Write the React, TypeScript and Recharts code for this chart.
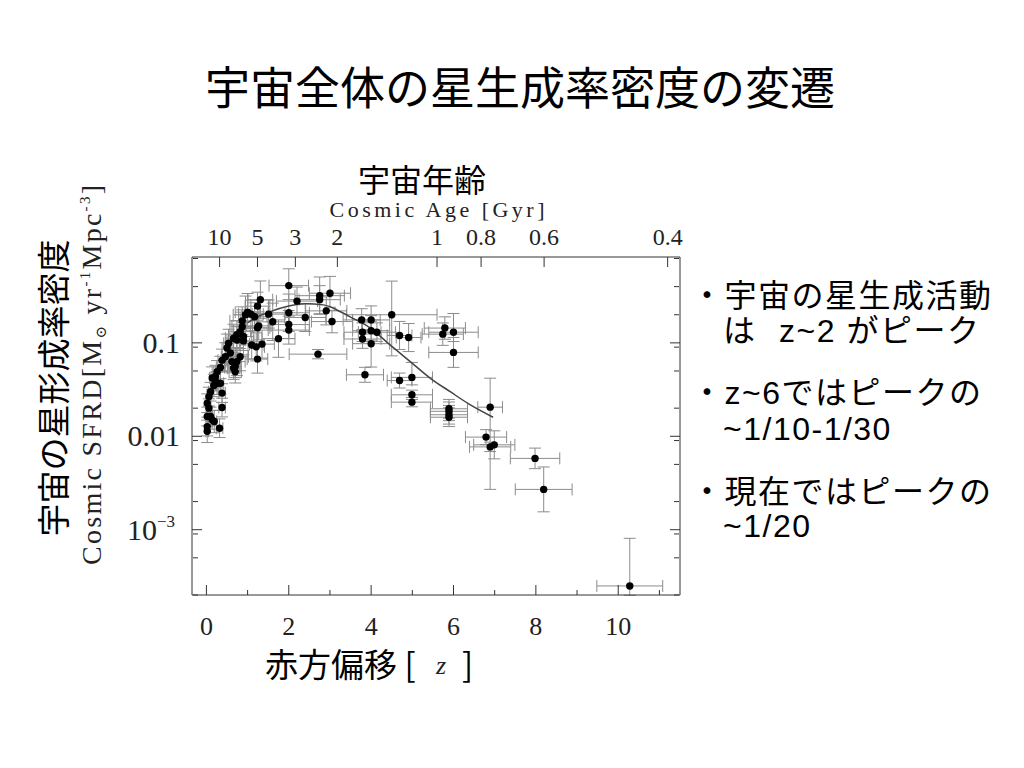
// Cosmic star formation rate density vs redshift (slide recreation)
import React from 'react'
import { ComposedChart, Scatter, Line, XAxis, YAxis, ErrorBar } from 'recharts'

const redshift = [
    0.02, 0.02, 0.02, 0.02, 0.06, 0.06, 0.1, 0.1, 0.14, 0.19,
    0.32, 0.38, 0.38, 0.34, 0.26, 0.18, 0.14, 0.22, 0.22, 0.26,
    0.34, 0.38, 0.46, 0.5, 0.54, 0.58, 0.62, 0.66, 0.7, 0.7,
    0.74, 0.82, 0.66, 0.74, 0.74, 0.82, 0.9, 0.9, 0.87, 0.87,
    0.95, 1.0, 1.08, 1.17, 1.1, 1.21, 1.24, 1.27, 1.24, 1.24,
    1.31, 1.35, 1.51, 1.61, 1.75, 2.0, 2.0, 2.0, 2.0, 2.2,
    2.4, 2.71, 2.75, 2.75, 2.91, 3.0, 3.05, 3.77, 4.0, 3.79,
    4.0, 4.14, 3.79, 4.0, 4.5, 4.69, 4.91, 5.79, 5.74, 6.0,
    6.0, 3.85, 4.69, 4.99, 4.99, 4.99, 5.89, 5.89, 5.89, 5.89,
    6.89, 6.79, 6.89, 6.99, 7.98, 8.19, 10.28,
]
const sfrd = [
    0.0113, 0.0127, 0.0163, 0.0226, 0.02, 0.0266, 0.03, 0.0163, 0.015, 0.0144,
    0.0122, 0.0203, 0.029, 0.037, 0.037, 0.035, 0.042, 0.0436, 0.0386, 0.049,
    0.0545, 0.065, 0.071, 0.088, 0.099, 0.078, 0.063, 0.0536, 0.049, 0.056,
    0.063, 0.071, 0.112, 0.107, 0.122, 0.132, 0.117, 0.105, 0.149, 0.172,
    0.2, 0.213, 0.203, 0.19, 0.095, 0.0906, 0.067, 0.152, 0.145, 0.247,
    0.29, 0.097, 0.203, 0.168, 0.111, 0.41, 0.21, 0.157, 0.137, 0.28,
    0.187, 0.0757, 0.32, 0.29, 0.22, 0.34, 0.169, 0.176, 0.176, 0.13,
    0.135, 0.13, 0.11, 0.098, 0.2, 0.12, 0.114, 0.144, 0.124, 0.13,
    0.079, 0.0455, 0.0395, 0.0427, 0.0278, 0.0232, 0.0197, 0.0185, 0.017, 0.016,
    0.0205, 0.0098, 0.0077, 0.0081, 0.0058, 0.0027, 0.00025,
]
const redshiftErr = [
    0.03, 0.03, 0.03, 0.03, 0.05, 0.05, 0.05, 0.05, 0.05, 0.06,
    0.08, 0.08, 0.08, 0.08, 0.08, 0.06, 0.06, 0.06, 0.06, 0.08,
    0.1, 0.1, 0.1, 0.12, 0.12, 0.12, 0.15, 0.15, 0.15, 0.15,
    0.2, 0.2, 0.2, 0.2, 0.2, 0.25, 0.25, 0.25, 0.25, 0.3,
    0.3, 0.3, 0.3, 0.3, 0.3, 0.2, 0.25, 0.3, 0.3, 0.3,
    0.3, 0.3, 0.4, 0.4, 0.4, 0.48, 0.5, 0.5, 0.5, 0.5,
    0.5, 0.7, 0.6, 0.5, 0.5, 0.5, 0.5, 0.45, 0.45, 0.45,
    0.45, 0.45, 0.45, 0.45, 1.1, 0.3, 0.3, 0.5, 0.5, 0.6,
    0.6, 0.45, 0.3, 0.5, 0.5, 0.5, 0.45, 0.45, 0.45, 0.45,
    0.3, 0.5, 0.5, 0.5, 0.6, 0.69, 0.8,
]
// lower / upper error in dex
const dexLow = [
    0.12, 0.1, 0.1, 0.1, 0.1, 0.1, 0.1, 0.1, 0.1, 0.12,
    0.1, 0.1, 0.1, 0.12, 0.12, 0.12, 0.12, 0.12, 0.1, 0.12,
    0.12, 0.12, 0.15, 0.15, 0.15, 0.12, 0.12, 0.12, 0.12, 0.12,
    0.15, 0.15, 0.15, 0.15, 0.15, 0.18, 0.15, 0.15, 0.18, 0.15,
    0.15, 0.15, 0.15, 0.15, 0.15, 0.15, 0.15, 0.15, 0.15, 0.15,
    0.2, 0.15, 0.15, 0.2, 0.2, 0.15, 0.2, 0.15, 0.15, 0.15,
    0.15, 0.05, 0.2, 0.15, 0.15, 0.15, 0.12, 0.12, 0.15, 0.1,
    0.1, 0.1, 0.1, 0.25, 0.44, 0.15, 0.15, 0.12, 0.12, 0.1,
    0.16, 0.08, 0.08, 0.08, 0.05, 0.05, 0.1, 0.1, 0.1, 0.1,
    0.88, 0.08, 0.05, 0.15, 0.11, 0.24, 0.1,
]
const dexHigh = [
    0.12, 0.1, 0.1, 0.1, 0.1, 0.1, 0.1, 0.1, 0.1, 0.12,
    0.1, 0.1, 0.1, 0.12, 0.12, 0.12, 0.12, 0.12, 0.1, 0.12,
    0.12, 0.12, 0.15, 0.15, 0.15, 0.12, 0.12, 0.12, 0.12, 0.12,
    0.15, 0.15, 0.15, 0.15, 0.15, 0.18, 0.15, 0.15, 0.18, 0.15,
    0.2, 0.2, 0.15, 0.15, 0.15, 0.15, 0.15, 0.15, 0.15, 0.15,
    0.2, 0.15, 0.15, 0.2, 0.2, 0.18, 0.2, 0.15, 0.15, 0.15,
    0.15, 0.05, 0.2, 0.15, 0.15, 0.18, 0.12, 0.12, 0.15, 0.1,
    0.1, 0.1, 0.1, 0.3, 0.36, 0.15, 0.15, 0.12, 0.12, 0.2,
    0.16, 0.08, 0.08, 0.16, 0.05, 0.05, 0.1, 0.1, 0.1, 0.1,
    0.31, 0.08, 0.05, 0.15, 0.11, 0.24, 0.51,
]

// fit curve
const curveZ = [1.0, 1.3, 1.55, 2.0, 2.4, 2.84, 3.0, 3.17, 3.49, 3.98, 4.46, 4.95, 5.43, 5.92, 6.4, 6.96]
const curveSfrd = [0.165, 0.195, 0.216, 0.248, 0.263, 0.255, 0.244, 0.225, 0.19, 0.144, 0.095, 0.063, 0.042, 0.03, 0.0218, 0.016]

// axes
const zTicks = [0, 1, 2, 3, 4, 5, 6, 7, 8, 9, 10, 11]
const zLabelled = [0, 2, 4, 6, 8, 10]
const ageTickZ = [0.32, 1.24, 2.16, 3.18, 5.6, 6.67, 8.2, 11.2]
const ageLabels = ['10', '5', '3', '2', '1', '0.8', '0.6', '0.4']
const sfrdTicks = [0.001, 0.01, 0.1]
const sfrdMinorTicks = [
    0.0002, 0.0003, 0.0004, 0.0005, 0.0006, 0.0007, 0.0008, 0.0009,
    0.002, 0.003, 0.004, 0.005, 0.006, 0.007, 0.008, 0.009,
    0.02, 0.03, 0.04, 0.05, 0.06, 0.07, 0.08, 0.09,
    0.2, 0.3, 0.4, 0.5, 0.6, 0.7, 0.8,
]

const points = redshift.map((z, i) => {
    const v = sfrd[i]
    return {
        z,
        sfrd: v,
        zErr: redshiftErr[i],
        sfrdErr: [v - v * Math.pow(10, -dexLow[i]), v * Math.pow(10, dexHigh[i]) - v],
    }
})
const curve = curveZ.map((z, i) => ({ z, sfrd: curveSfrd[i] }))

const zDomain = [-0.35, 11.5]
const sfrdDomain = [0.0002, 0.83]
const serif = '"Liberation Serif", "DejaVu Serif", serif'
const gothic = '"Noto Sans CJK JP", sans-serif'
const bullets = '"Liberation Sans", "Noto Sans CJK JP", sans-serif'
const axisColor = '#333'

function SfrdTick(props: any) {
    const { x, y, payload } = props
    const v = payload.value
    if (v === 0.001) {
        return (
            <text x={x - 5} y={y + 10} textAnchor="end" fontSize={30} fill="#222" fontFamily={serif}>
                10<tspan dy={-13} fontSize={17}>−3</tspan>
            </text>
        )
    }
    return (
        <text x={x} y={y + 10} textAnchor="end" fontSize={30} fill="#222" fontFamily={serif}>
            {v === 0.1 ? '0.1' : '0.01'}
        </text>
    )
}

// bottom axis: inward tick line, label on even values
function RedshiftTick(props: any) {
    const { x, y, payload } = props
    const major = zLabelled.includes(payload.value)
    return (
        <g>
            <line x1={x} x2={x} y1={y} y2={y - (major ? 10 : 5)} stroke={axisColor} strokeWidth={1} />
            {major && (
                <text x={x} y={y + 40} textAnchor="middle" fontSize={26} fill="#222" fontFamily={serif}>
                    {payload.value}
                </text>
            )}
        </g>
    )
}

// top axis: inward tick line and age label
function AgeTick(props: any) {
    const { x, y, payload } = props
    let idx = 0
    ageTickZ.forEach((t, i) => {
        if (Math.abs(t - payload.value) < Math.abs(ageTickZ[idx] - payload.value)) idx = i
    })
    return (
        <g>
            <line x1={x} x2={x} y1={y} y2={y + 10} stroke={axisColor} strokeWidth={1} />
            <text x={x} y={y - 12} textAnchor="middle" fontSize={24} fill="#222" fontFamily={serif}>
                {ageLabels[idx]}
            </text>
        </g>
    )
}

// tick lines only, no label
function NoLabel() {
    return <g />
}

function DataDot(props: any) {
    return <circle cx={props.cx} cy={props.cy} r={3.7} fill="#000" />
}

export default function App() {
    return (
        <div style={{ position: 'absolute', left: 0, top: 0, width: 1024, height: 768, background: '#fff' }}>
            <ComposedChart
                width={1024}
                height={768}
                margin={{ top: 227, right: 344, bottom: 143, left: 132 }}
            >
                <XAxis xAxisId="z" dataKey="z" type="number" orientation="bottom" domain={zDomain}
                    allowDataOverflow ticks={zTicks} interval={0} height={30} tickLine={false} tickSize={0}
                    tickMargin={0} stroke={axisColor} tick={RedshiftTick} />
                <XAxis xAxisId="age" dataKey="z" type="number" orientation="top" domain={zDomain}
                    allowDataOverflow ticks={ageTickZ} interval={0} height={30} tickLine={false} tickSize={0}
                    tickMargin={0} stroke={axisColor} tick={AgeTick} />

                <YAxis yAxisId="sfr" type="number" scale="log" orientation="left" domain={sfrdDomain}
                    allowDataOverflow ticks={sfrdTicks} width={60} tickLine={false} tickSize={10} tickMargin={2}
                    stroke={axisColor} tick={SfrdTick} />
                <YAxis yAxisId="sfrMajor" type="number" scale="log" orientation="left" mirror width={1} domain={sfrdDomain}
                    allowDataOverflow ticks={sfrdTicks} tickSize={10} tick={NoLabel} axisLine={false} stroke={axisColor} />
                <YAxis yAxisId="sfrMinor" type="number" scale="log" orientation="left" mirror width={1} domain={sfrdDomain}
                    allowDataOverflow ticks={sfrdMinorTicks} tickSize={5} tick={NoLabel} axisLine={false} stroke={axisColor} />
                <YAxis yAxisId="sfrRight" type="number" scale="log" orientation="right" mirror width={1} domain={sfrdDomain}
                    allowDataOverflow ticks={sfrdTicks} tickSize={10} tick={NoLabel} stroke={axisColor} />
                <YAxis yAxisId="sfrRightMinor" type="number" scale="log" orientation="right" mirror width={1} domain={sfrdDomain}
                    allowDataOverflow ticks={sfrdMinorTicks} tickSize={5} tick={NoLabel} axisLine={false} stroke={axisColor} />

                <Scatter data={points} dataKey="sfrd" xAxisId="z" yAxisId="sfr" shape={DataDot} isAnimationActive={false}>
                    <ErrorBar dataKey="zErr" direction="x" width={6} stroke="#8c8c8c" strokeWidth={1} isAnimationActive={false} />
                    <ErrorBar dataKey="sfrdErr" direction="y" width={6} stroke="#8c8c8c" strokeWidth={1} isAnimationActive={false} />
                </Scatter>
                <Line data={curve} dataKey="sfrd" xAxisId="age" yAxisId="sfr" type="monotone" stroke="#444"
                    strokeWidth={1.5} dot={false} activeDot={false} isAnimationActive={false} />
            </ComposedChart>

            <svg width={1024} height={768} style={{ position: 'absolute', left: 0, top: 0, pointerEvents: 'none' }}>
                <text x={520} y={105} textAnchor="middle" fontSize={45} fontFamily={gothic} fill="#000">
                    宇宙全体の星生成率密度の変遷
                </text>
                <text x={422} y={192} textAnchor="middle" fontSize={32} fontFamily={gothic} fill="#000">
                    宇宙年齢
                </text>
                <text x={437} y={217} textAnchor="middle" fontSize={22} fontFamily={serif} fill="#222"
                    textLength={215} lengthAdjust="spacing">
                    Cosmic Age [Gyr]
                </text>
                <text transform="translate(101,375) rotate(-90)" textAnchor="middle" fontSize={28}
                    fontFamily={serif} fill="#222" textLength={380} lengthAdjust="spacing">
                    Cosmic SFRD[M<tspan dy={5} fontSize={15}>⊙</tspan><tspan dy={-5}> yr</tspan>
                    <tspan dy={-11} fontSize={15}>-1</tspan><tspan dy={11}>Mpc</tspan>
                    <tspan dy={-11} fontSize={15}>-3</tspan><tspan dy={11}>]</tspan>
                </text>
                <text transform="translate(66,388) rotate(-90)" textAnchor="middle" fontSize={33}
                    fontFamily={gothic} fill="#000">
                    宇宙の星形成率密度
                </text>
                <text x={265} y={677} fontSize={33} fontFamily={gothic} fill="#000">赤方偏移 [</text>
                <text x={436} y={674} fontSize={26} fontFamily={serif} fontStyle="italic" fill="#222">z</text>
                <text x={462} y={677} fontSize={33} fontFamily={gothic} fill="#000">]</text>

                <g fontSize={32} fontFamily={bullets} fill="#000" letterSpacing={1.5}>
                    <text x={691} y={307}>・宇宙の星生成活動</text>
                    <text x={723} y={342}>は</text>
                    <text x={779} y={342}>z~2 がピーク</text>
                    <text x={691} y={404}>・z~6ではピークの</text>
                    <text x={723} y={440}>~1/10-1/30</text>
                    <text x={691} y={503}>・現在ではピークの</text>
                    <text x={723} y={537}>~1/20</text>
                </g>
            </svg>
        </div>
    )
}
